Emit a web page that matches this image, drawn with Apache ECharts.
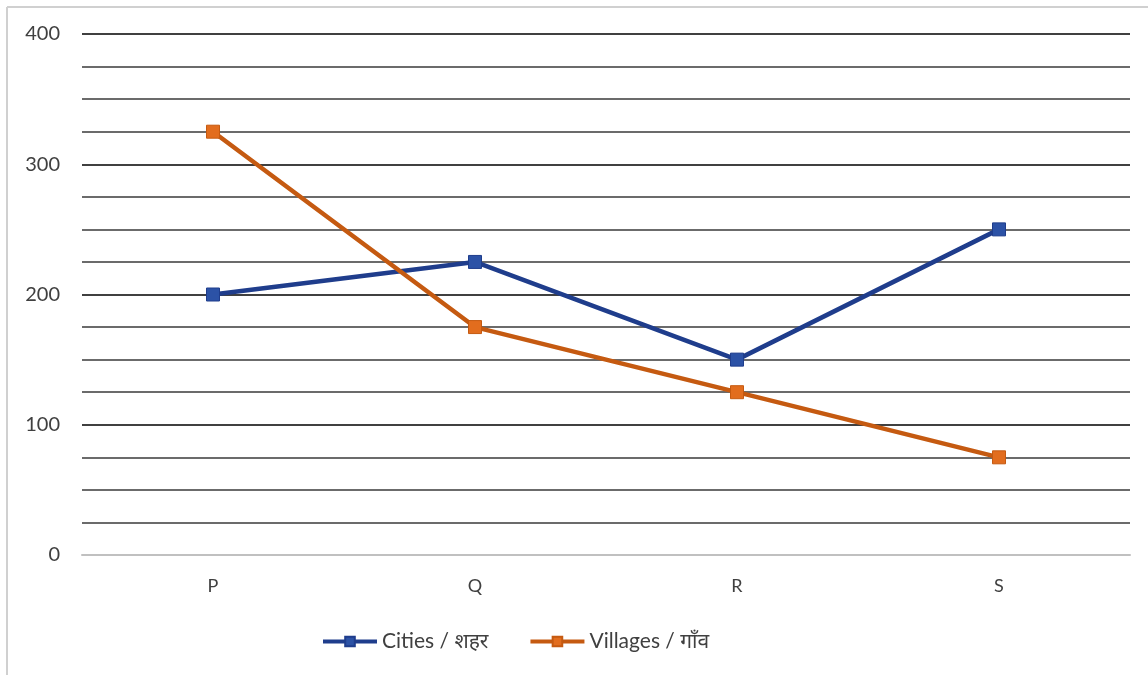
<!DOCTYPE html>
<html>
<head>
<meta charset="utf-8">
<script src="https://cdn.jsdelivr.net/npm/echarts@6/dist/echarts.min.js"></script>
<style>
html,body{margin:0;padding:0;background:#fff;}
#c{width:1148px;height:675px;}
</style>
</head>
<body>
<div id="c"></div>
<script>
const categories = ['P', 'Q', 'R', 'S'];
const cities = [200, 225, 150, 250];
const villages = [325, 175, 125, 75];
const seriesNames = ['Cities / शहर', 'Villages / गाँव'];

const chart = echarts.init(document.getElementById('c'));
const font = 'Lato, "Noto Sans", "Open Sans", sans-serif';
chart.setOption({
  backgroundColor: '#fff',
  animation: false,
  graphic: [
    { type: 'line', shape: { x1: 7, y1: 7, x2: 1148, y2: 7 }, style: { stroke: '#d0d0d0', lineWidth: 2 } },
    { type: 'line', shape: { x1: 7, y1: 7, x2: 7, y2: 675 }, style: { stroke: '#d0d0d0', lineWidth: 2 } }
  ],
  grid: { left: 82, right: 18, top: 34, bottom: 120, containLabel: false },
  legend: {
    bottom: 18,
    left: 316,
    itemWidth: 54,
    itemHeight: 12,
    itemGap: 40,
    lineStyle: { width: 4 },
    textStyle: { fontFamily: font, fontSize: 21, color: '#404040' },
    data: seriesNames
  },
  xAxis: {
    type: 'category',
    data: categories,
    boundaryGap: true,
    axisLine: { show: true, lineStyle: { color: '#c0c0c0', width: 2 } },
    axisTick: { show: false },
    axisLabel: { fontFamily: font, fontSize: 18, color: '#404040', margin: 22 },
    z: 5
  },
  yAxis: {
    type: 'value',
    min: 0,
    max: 400,
    interval: 25,
    axisLine: { show: false },
    axisTick: { show: false },
    axisLabel: {
      fontFamily: font, fontSize: 20, color: '#404040', margin: 22,
      formatter: v => (v % 100 === 0 ? String(v) : '')
    },
    splitLine: { lineStyle: { color: ['#c0c0c0', '#3a3a3a', '#3a3a3a', '#3a3a3a', '#000', '#3a3a3a', '#3a3a3a', '#3a3a3a', '#000', '#3a3a3a', '#3a3a3a', '#3a3a3a', '#000', '#3a3a3a', '#3a3a3a', '#3a3a3a', '#000'], width: 1.6 } }
  },
  series: [
    {
      name: seriesNames[0],
      type: 'line',
      data: cities,
      symbol: 'rect',
      symbolSize: 13,
      lineStyle: { color: '#1f3d8c', width: 4.5 },
      itemStyle: { color: '#2c52a6', borderColor: '#1f3d8c', borderWidth: 1 },
      z: 3
    },
    {
      name: seriesNames[1],
      type: 'line',
      data: villages,
      symbol: 'rect',
      symbolSize: 13,
      lineStyle: { color: '#c55a11', width: 4.5 },
      itemStyle: { color: '#e26d1e', borderColor: '#c55a11', borderWidth: 1 },
      z: 3
    }
  ]
});
</script>
</body>
</html>
